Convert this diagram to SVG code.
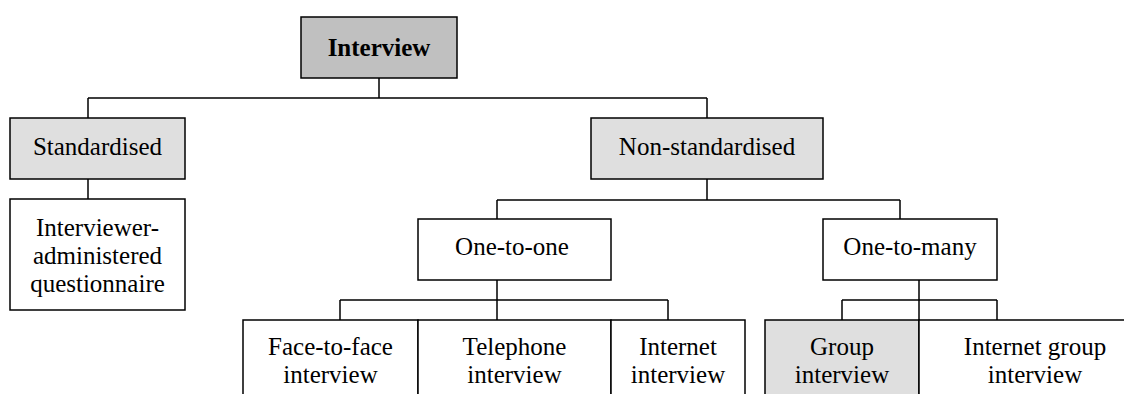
<svg xmlns="http://www.w3.org/2000/svg" width="1124" height="394" viewBox="0 0 1124 394">
<style>
.box{stroke:#000;stroke-width:1.5;fill:#fff}
.dark{fill:#c0c0c0}
.light{fill:#dfdfdf}
.t{font-family:"Liberation Serif","Times New Roman",serif;font-size:25px;fill:#000;text-anchor:middle}
.b{font-weight:bold}
.c{stroke:#000;stroke-width:1.5;fill:none}
</style>
<rect width="1124" height="394" fill="#fff"/>
<g id="connectors">
<path class="c" d="M379 78V98M88 98H707M88 98V118M707 98V118"/>
<path class="c" d="M88 179V199"/>
<path class="c" d="M707 179V200M497 200H900M497 200V219M900 200V219"/>
<path class="c" d="M497 280V320M340 300H668M340 300V320M668 300V320"/>
<path class="c" d="M919 280V320M842 300H997M842 300V320M997 300V320"/>
</g>
<g id="interview">
<rect class="box dark" x="301" y="17" width="156" height="61"/>
<text class="t b" x="379" y="56">Interview</text>
</g>
<g id="standardised">
<rect class="box light" x="10" y="118" width="175" height="61"/>
<text class="t" x="97.5" y="155">Standardised</text>
</g>
<g id="non-standardised">
<rect class="box light" x="591" y="118" width="232" height="61"/>
<text class="t" x="707" y="155">Non-standardised</text>
</g>
<g id="interviewer-administered">
<rect class="box" x="10" y="199" width="175" height="111"/>
<text class="t" x="97.5" y="236">Interviewer-</text>
<text class="t" x="97.5" y="264">administered</text>
<text class="t" x="97.5" y="292">questionnaire</text>
</g>
<g id="one-to-one">
<rect class="box" x="418" y="219" width="193" height="61"/>
<text class="t" x="512" y="255">One-to-one</text>
</g>
<g id="one-to-many">
<rect class="box" x="823" y="219" width="174" height="61"/>
<text class="t" x="910" y="255">One-to-many</text>
</g>
<g id="face-to-face">
<rect class="box" x="243" y="320" width="175" height="90"/>
<text class="t" x="330.5" y="355">Face-to-face</text>
<text class="t" x="330.5" y="383">interview</text>
</g>
<g id="telephone">
<rect class="box" x="418" y="320" width="193" height="90"/>
<text class="t" x="514.5" y="355">Telephone</text>
<text class="t" x="514.5" y="383">interview</text>
</g>
<g id="internet">
<rect class="box" x="611" y="320" width="134" height="90"/>
<text class="t" x="678" y="355">Internet</text>
<text class="t" x="678" y="383">interview</text>
</g>
<g id="group">
<rect class="box light" x="765" y="320" width="154" height="90"/>
<text class="t" x="842" y="355">Group</text>
<text class="t" x="842" y="383">interview</text>
</g>
<g id="internet-group">
<rect class="box" x="919" y="320" width="230" height="90"/>
<text class="t" x="1035" y="355">Internet group</text>
<text class="t" x="1035" y="383">interview</text>
</g>
</svg>
